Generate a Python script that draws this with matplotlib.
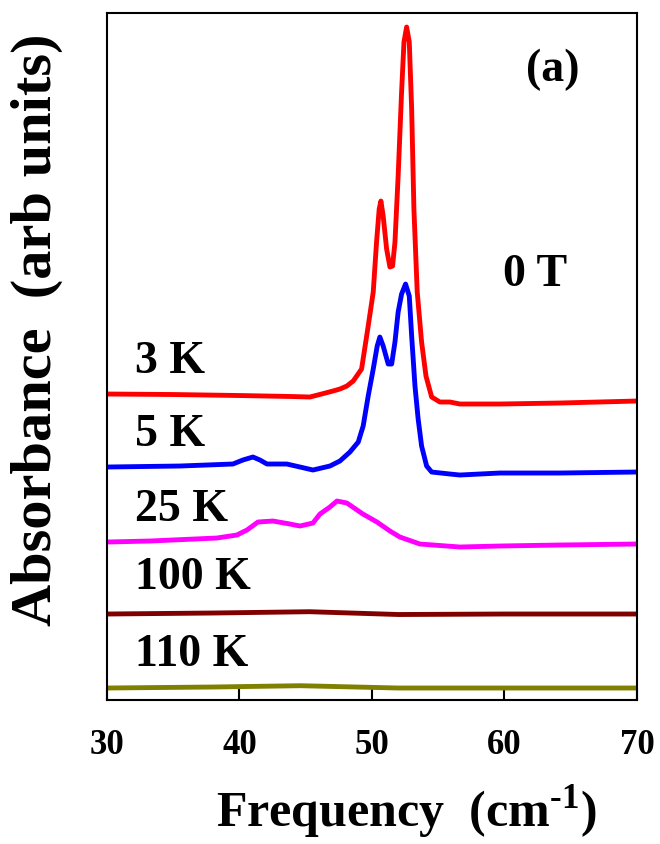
import matplotlib

matplotlib.use("Agg")
import matplotlib.pyplot as plt

plt.rcParams["font.family"] = ["Liberation Serif", "DejaVu Serif"]
plt.rcParams["font.weight"] = "bold"
plt.rcParams["mathtext.fontset"] = "custom"
plt.rcParams["mathtext.rm"] = "Liberation Serif:bold"
plt.rcParams["mathtext.bf"] = "Liberation Serif:bold"

# Spectra at 0 T, each already offset vertically (arb. units)
freq_3k = [30.0, 35.0, 40.0, 44.0, 45.32, 46.2, 47.06, 47.585, 48.11, 48.59, 49.22,
           49.72, 50.10, 50.35, 50.55, 50.68, 50.85, 51.11, 51.36, 51.56, 51.74, 51.98,
           52.24, 52.42, 52.62, 52.82, 53.00, 53.17, 53.42, 53.75, 54.08, 54.51, 55.13,
           55.89, 56.64, 59.66, 64.19, 70.0]
abs_3k = [306, 305.5, 304.5, 303.5, 303, 306, 309, 311, 314, 319, 331,
          374, 408, 458, 491, 499, 484, 451, 433, 434, 458, 524,
          608, 658, 673, 658, 591, 491, 408, 358, 324, 303, 298,
          298, 296, 296, 297, 299]

freq_5k = [30.0, 35.51, 39.51, 40.26, 41.02, 41.55, 42.08, 43.58, 44.57, 45.55, 46.83,
           47.585, 48.34, 48.97, 49.34, 49.72, 50.10, 50.40, 50.60, 50.85, 51.23, 51.49,
           51.74, 51.98, 52.24, 52.54, 52.82, 53.00, 53.25, 53.49, 53.75, 54.13, 54.51,
           55.89, 56.64, 59.66, 64.19, 70.0]
abs_5k = [233, 234, 236, 240, 243, 240, 236, 236, 233, 230, 234,
          239, 248, 258, 274, 304, 331, 354, 363, 354, 336, 336,
          358, 388, 406, 416, 404, 364, 314, 281, 254, 234, 228,
          226, 225, 227, 227, 228]

freq_25k = [30.0, 33.25, 38.30, 39.81, 40.57, 41.40, 42.53, 43.81, 44.57, 45.55, 46.08,
            46.83, 47.36, 48.11, 49.32, 50.38, 51.36, 52.11, 53.62, 56.64, 59.66, 64.19, 70.0]
abs_25k = [158, 159, 162, 165, 170, 178, 179, 176, 174, 177, 186,
           193, 199, 197, 186, 178, 169, 163, 156, 153, 154, 155, 156]

freq_100k = [30.0, 38.0, 45.3, 52.0, 60.0, 70.0]
abs_100k = [86, 87, 88.3, 85.5, 86, 86]

freq_110k = [30.0, 38.0, 44.6, 52.0, 70.0]
abs_110k = [12, 13, 14.3, 12, 12]

series = [
    (freq_3k, abs_3k, "#ff0000", "3 K", 339),
    (freq_5k, abs_5k, "#0000ff", "5 K", 266),
    (freq_25k, abs_25k, "#ff00ff", "25 K", 191),
    (freq_100k, abs_100k, "#800000", "100 K", 123),
    (freq_110k, abs_110k, "#808000", "110 K", 46),
]

fig = plt.figure(figsize=(6.6, 8.45), dpi=100)
ax = fig.add_axes([0.162, 0.1704, 0.803, 0.813])

for f, a, color, label, ylab in series:
    ax.plot(f, a, color=color, lw=3.5, solid_joinstyle="round", solid_capstyle="butt")
    ax.text(32.1, ylab, label, fontsize=33, fontweight="bold", ha="left", va="center")

ax.text(59.9, 426, "0 T", fontsize=33, fontweight="bold", ha="left", va="center")
ax.text(61.6, 631, "(a)", fontsize=33, fontweight="bold", ha="left", va="center")

ax.set_xlim(30, 70)
ax.set_ylim(0, 687)
ax.set_xticks([30, 40, 50, 60, 70])
ax.set_yticks([])
ax.tick_params(axis="x", direction="in", length=8, width=1.5, pad=20,
               labelsize=25, top=False)
for lbl in ax.get_xticklabels():
    lbl.set_fontweight("bold")
for sp in ax.spines.values():
    sp.set_linewidth(1.5)

ax.set_xlabel(r"Frequency  (cm$^{\text{-1}}$)", fontsize=36, fontweight="bold")
ax.xaxis.set_label_coords(0.565, -0.118)
ax.set_ylabel("Absorbance  (arb units)", fontsize=42, fontweight="bold")
ax.yaxis.set_label_coords(-0.083, 0.54)

fig.savefig("out.png", dpi=100)
plt.close(fig)
